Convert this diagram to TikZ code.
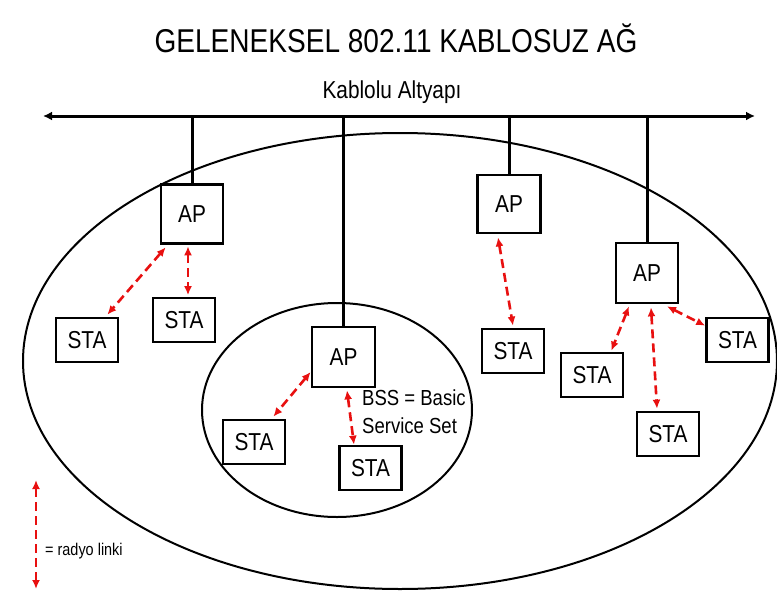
\documentclass[tikz,border=0pt]{standalone}
\usepackage{fontspec}
\usepackage{graphicx}
\setmainfont{Liberation Sans}
\usetikzlibrary{arrows.meta,calc}
\definecolor{radred}{RGB}{232,16,16}
\newcommand{\condtxt}[1]{\scalebox{0.85}[1]{#1}}
\begin{document}
\begin{tikzpicture}[x=1pt,y=-1pt,
  box/.style={draw=black,line width=2.7pt,fill=white,inner sep=0pt,font=\fontsize{24.5}{28}\selectfont},
  apbox/.style={box,minimum width=62pt,minimum height=59pt},
  stabox/.style={box,minimum width=62pt,minimum height=44pt},
  radio/.style={draw=radred,line width=2.6pt,dash pattern=on 9pt off 5pt,{Latex[length=9pt,width=8pt]}-{Latex[length=9pt,width=8pt]}},
  wire/.style={line width=3pt},
  area/.style={line width=2pt}]
\useasboundingbox (0,0) rectangle (777,592);

% titles
\node[font=\fontsize{33}{38}\selectfont] (title) at (396,38) {\condtxt{GELENEKSEL 802.11 KABLOSUZ AĞ}};
\node[font=\fontsize{24.5}{28}\selectfont] (infra) at (392,92) {\condtxt{Kablolu Altyapı}};

% bus
\coordinate (busL) at (43,116);
\coordinate (busR) at (755,116);
\draw[wire,{Latex[length=9pt,width=9pt]}-{Latex[length=9pt,width=9pt]}] (busL) -- (busR);

% coverage areas
\draw[area] (400,361) ellipse [x radius=377, y radius=228];
\draw[area] (337,410) ellipse [x radius=135, y radius=107];

% access points
\node[apbox] (AP1) at (192,214) {\condtxt{AP}};
\node[apbox, minimum width=63pt, minimum height=60pt] (AP2) at (343.5,357) {\condtxt{AP}};
\node[apbox, minimum width=63pt, minimum height=58pt] (AP3) at (509,204) {\condtxt{AP}};
\node[apbox, minimum height=60pt] (AP4) at (647,273) {\condtxt{AP}};

% stations
\node[stabox] (STA1) at (87,340) {\condtxt{STA}};
\node[stabox] (STA2) at (184,320) {\condtxt{STA}};
\node[stabox] (STA3) at (254,442) {\condtxt{STA}};
\node[stabox] (STA4) at (370.5,468) {\condtxt{STA}};
\node[stabox] (STA5) at (513,351) {\condtxt{STA}};
\node[stabox] (STA6) at (592,375) {\condtxt{STA}};
\node[stabox] (STA7) at (737.5,340) {\condtxt{STA}};
\node[stabox] (STA8) at (668,434) {\condtxt{STA}};

% wired drops
\draw[wire] (AP1.north) -- (AP1.north |- busL);
\draw[wire] (AP2.north) -- (AP2.north |- busL);
\draw[wire] (AP3.north) -- (AP3.north |- busL);
\draw[wire] (AP4.north) -- (AP4.north |- busL);

% radio links
\draw[radio] ($(AP1.south west)+(6,2.5)$) -- ($(STA1.north east)+(-12,-2)$);
\draw[radio] ($(AP1.south)+(-4,1.5)$) -- ($(STA2.north)+(4,-1.5)$);
\draw[radio] ($(AP2.west)+(0,15)$) -- ($(STA3.north east)+(-13,-2)$);
\draw[radio] ($(AP2.south)+(3.5,2)$) -- ($(STA4.north)+(-16.5,0)$);
\draw[radio] ($(AP3.south)+(-11,3)$) -- ($(STA5.north)+(0,-2)$);
\draw[radio] ($(AP4.south)+(-18,2)$) -- ($(STA6.north east)+(-13,-1)$);
\draw[radio] ($(AP4.south)+(4,3)$) -- ($(STA8.north)+(-11,-2)$);
\draw[radio] ($(AP4.south)+(20,2)$) -- ($(STA7.north west)+(0,9)$);

% BSS label
\node[font=\fontsize{21.8}{28}\selectfont, anchor=west, inner sep=0pt] (bss) at (362,414) {\condtxt{\begin{tabular}{@{}l@{}}BSS = Basic\\Service Set\end{tabular}}};

% legend
\coordinate (legT) at (36,480);
\coordinate (legB) at (36,589);
\draw[radio] (legT) -- (legB);
\node[font=\fontsize{17}{20}\selectfont, anchor=west, inner sep=0pt] (legtext) at (45,551) {\condtxt{= radyo linki}};
\end{tikzpicture}
\end{document}
